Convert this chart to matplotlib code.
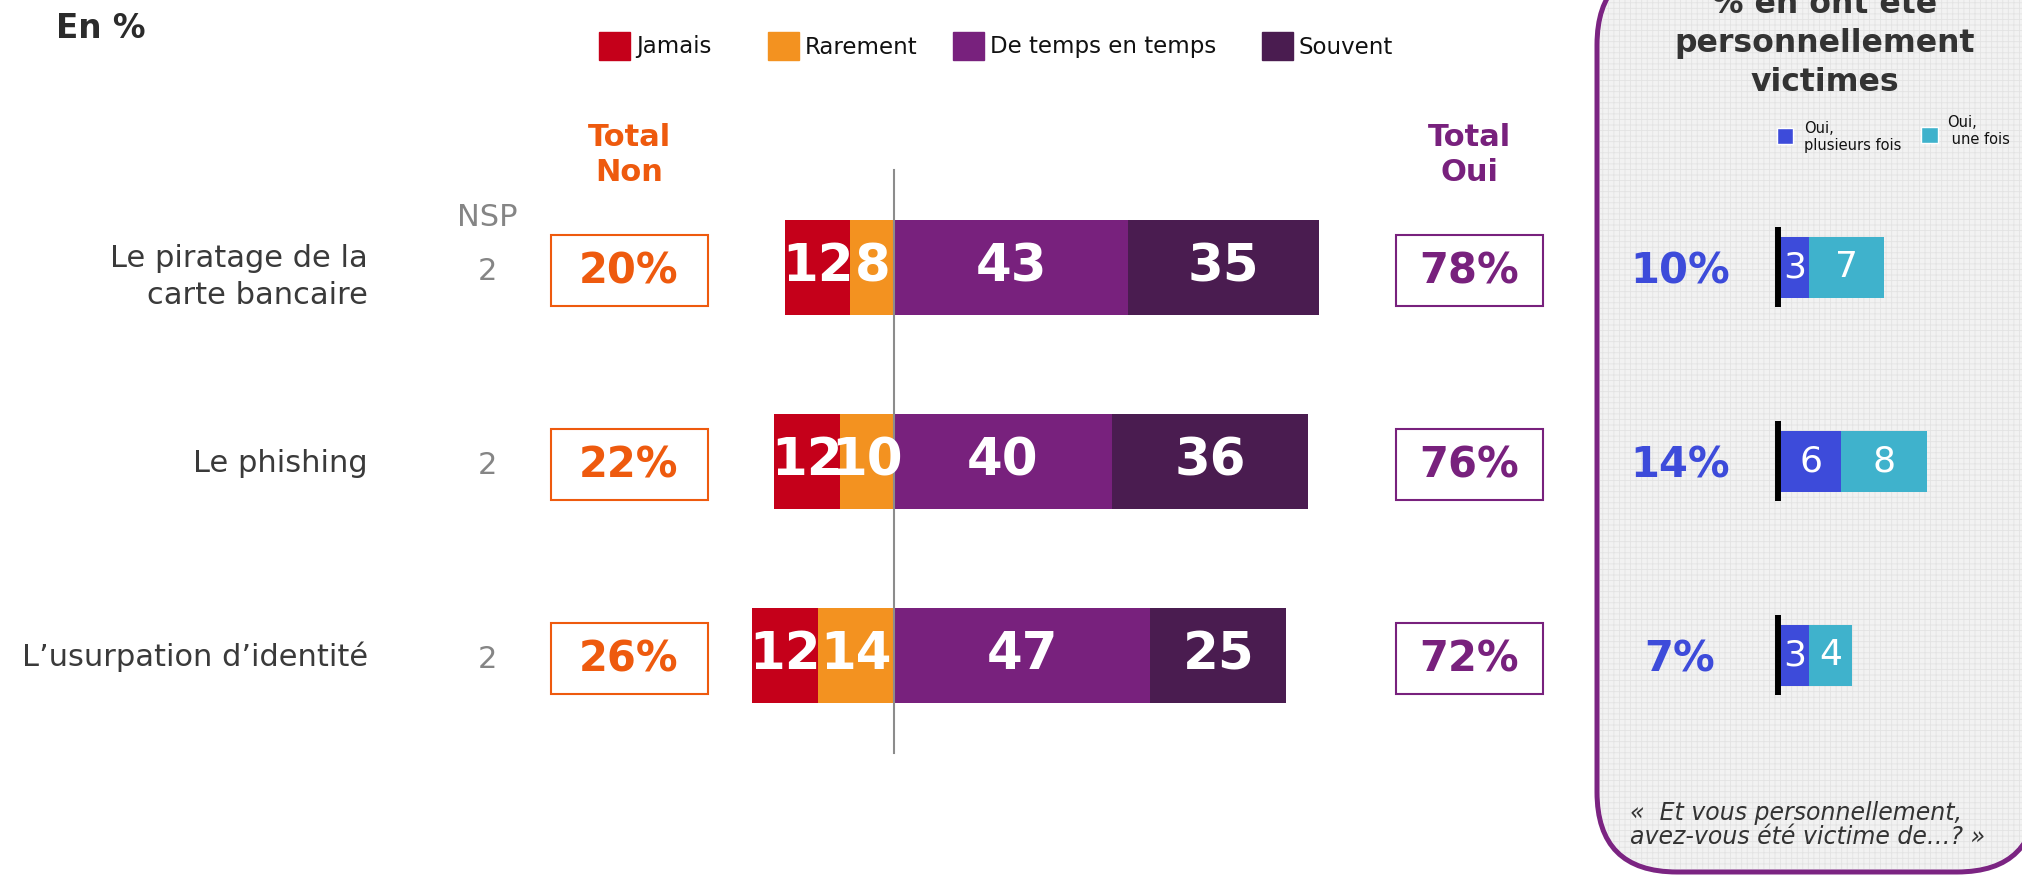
import matplotlib
matplotlib.use('Agg')
import matplotlib.pyplot as plt
from matplotlib.patches import Rectangle, FancyBboxPatch

# data
categories = ['Le piratage de la\ncarte bancaire', 'Le phishing', 'L\u2019usurpation d\u2019identit\u00e9']
series = ['Jamais', 'Rarement', 'De temps en temps', 'Souvent']
jamais = [12, 12, 12]
rarement = [8, 10, 14]
de_temps = [43, 40, 47]
souvent = [35, 36, 25]
nsp = [2, 2, 2]
total_non = [20, 22, 26]
total_oui = [78, 76, 72]

victim_series = ['Oui,\nplusieurs fois', 'Oui,\n une fois']
victim_plusieurs = [2.7, 5.7, 2.7]
victim_une = [7.1, 8.2, 4.1]
victim_total = [10, 14, 7]

RED = '#C5001A'
ORANGE_BAR = '#F39220'
PURPLE = '#78217D'
DARK = '#4A1C50'
ORANGE_TXT = '#EE5A0E'
BLUE = '#3D4BDA'
CYAN = '#3FB2CC'
BORDER = '#7B2482'
TXT = '#3A3A3A'
colors = [RED, ORANGE_BAR, PURPLE, DARK]

# layout (pixels)
W, H = 2022, 875
ROW0, ROW_STEP = 267, 194
ZERO_X, PX_UNIT = 894, 5.45
V_ZERO_X, V_PX_UNIT = 1781, 10.5

plt.rcParams['hatch.linewidth'] = 0.6


def row_px(i):
    return ROW0 + ROW_STEP * i


fig = plt.figure(figsize=(W / 100, H / 100), dpi=100)

# overlay in pixel coords for texts and frames
ov = fig.add_axes([0, 0, 1, 1])
ov.set_xlim(0, W)
ov.set_ylim(H, 0)
ov.axis('off')

# right panel: filled frame, then a light grid hatch inside it
panel = FancyBboxPatch((1597, -35), 440, 907, boxstyle='round,pad=0,rounding_size=80',
                       facecolor='#F2F2F2', edgecolor=BORDER, lw=3.6, clip_on=False)
panel_grid = FancyBboxPatch((1600, -32), 434, 901, boxstyle='round,pad=0,rounding_size=77',
                            facecolor='none', edgecolor='#E3E3E3', hatch='+++', lw=0,
                            clip_on=False)
ov.add_patch(panel)
ov.add_patch(panel_grid)

ov.text(56, 28, 'En %', fontsize=23.5, fontweight='bold', color='#2B2B2B', ha='left', va='center')

# legend
leg_x = [599, 768, 953, 1262]
for name, col, lx in zip(series, colors, leg_x):
    ov.add_patch(Rectangle((lx, 32), 31, 28, color=col))
    ov.text(lx + 37, 47, name, fontsize=16.5, color='#111111', ha='left', va='center')

ov.text(629, 155, 'Total\nNon', fontsize=22, fontweight='bold', color=ORANGE_TXT,
        ha='center', va='center', linespacing=1.3)
ov.text(1469, 155, 'Total\nOui', fontsize=22, fontweight='bold', color=PURPLE,
        ha='center', va='center', linespacing=1.3)
ov.text(487, 218, 'NSP', fontsize=22, color='#858585', ha='center', va='center')

for i, cat in enumerate(categories):
    yc = row_px(i)
    off = 10 if '\n' in cat else 2
    ov.text(368, yc + off, cat, fontsize=22, color=TXT, ha='right', va='center', linespacing=1.35)
    ov.text(487, yc + 5, str(nsp[i]), fontsize=22, color='#858585', ha='center', va='center')
    ov.add_patch(Rectangle((551, yc - 32), 157, 71, facecolor='white', edgecolor=ORANGE_TXT, lw=1.5))
    ov.text(629, yc + 4, '%d%%' % total_non[i], fontsize=30, fontweight='bold', color=ORANGE_TXT,
            ha='center', va='center')
    ov.add_patch(Rectangle((1396, yc - 32), 147, 71, facecolor='white', edgecolor=PURPLE, lw=1.5))
    ov.text(1469, yc + 4, '%d%%' % total_oui[i], fontsize=30, fontweight='bold', color=PURPLE,
            ha='center', va='center')
    ov.text(1680, yc + 5, '%d%%' % victim_total[i], fontsize=30, fontweight='bold', color=BLUE,
            ha='center', va='center')

# panel texts
for line, base in zip(['% en ont \u00e9t\u00e9', 'personnellement', 'victimes'], [13, 52, 91]):
    ov.text(1825, base, line, fontsize=22.7, fontweight='bold', color='#333333',
            ha='center', va='baseline')

ov.add_patch(Rectangle((1777, 128), 16, 16, facecolor=BLUE, edgecolor='white', lw=1))
ov.text(1804, 137, victim_series[0], fontsize=10.5, color='#111111', ha='left', va='center')
ov.add_patch(Rectangle((1921, 127), 17, 16, facecolor=CYAN, edgecolor='white', lw=1))
ov.text(1947, 131, victim_series[1], fontsize=10.5, color='#111111', ha='left', va='center')

ov.text(1630, 825, '\u00ab  Et vous personnellement,\navez-vous \u00e9t\u00e9 victime de\u2026? \u00bb',
        fontsize=17, style='italic', color='#333333', ha='left', va='center', linespacing=1.05)

# main stacked bars
ylim = ((H - ROW0) / ROW_STEP, -ROW0 / ROW_STEP)
ax = fig.add_axes([0, 0, 1, 1])
ax.axis('off')
ax.set_xlim(-ZERO_X / PX_UNIT, (W - ZERO_X) / PX_UNIT)
ax.set_ylim(*ylim)

y = list(range(len(categories)))
bh = 95 / ROW_STEP
b_rare = ax.barh(y, [-v for v in rarement], height=bh, color=ORANGE_BAR)
b_jam = ax.barh(y, [-v for v in jamais], left=[-v for v in rarement], height=bh, color=RED)
b_tmp = ax.barh(y, de_temps, height=bh, color=PURPLE)
b_sou = ax.barh(y, souvent, left=de_temps, height=bh, color=DARK)
for bars, vals in [(b_jam, jamais), (b_rare, rarement), (b_tmp, de_temps), (b_sou, souvent)]:
    ax.bar_label(bars, labels=[str(v) for v in vals], label_type='center',
                 color='white', fontsize=37, fontweight='bold')
ax.axvline(0, ymin=1 - 753 / H, ymax=1 - 170 / H, color='#8C8C8C', lw=1.5)

# victims bars
vax = fig.add_axes([0, 0, 1, 1])
vax.axis('off')
vax.set_xlim(-V_ZERO_X / V_PX_UNIT, (W - V_ZERO_X) / V_PX_UNIT)
vax.set_ylim(*ylim)
vbh = 61 / ROW_STEP
v1 = vax.barh(y, victim_plusieurs, height=vbh, color=BLUE)
v2 = vax.barh(y, victim_une, left=victim_plusieurs, height=vbh, color=CYAN)
vax.bar_label(v1, labels=['%d' % round(v) for v in victim_plusieurs], label_type='center',
              color='white', fontsize=26)
vax.bar_label(v2, labels=['%d' % round(v) for v in victim_une], label_type='center',
              color='white', fontsize=26)
vax.vlines([-0.3] * len(y), [i - 40 / ROW_STEP for i in y], [i + 40 / ROW_STEP for i in y],
           color='black', lw=4.3)

fig.savefig('out.png', dpi=100)
